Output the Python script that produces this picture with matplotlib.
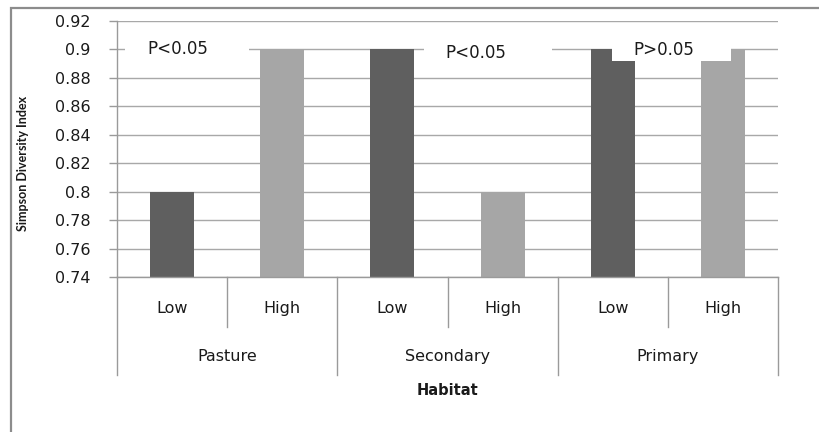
import matplotlib
matplotlib.use("Agg")
import matplotlib.pyplot as plt
from matplotlib.patches import Rectangle
import matplotlib.transforms as mtransforms

# Simpson diversity by habitat and disturbance level
habitats = ["Pasture", "Secondary", "Primary"]
levels = ["Low", "High"]
simpson_low = [0.80, 0.90, 0.90]
simpson_high = [0.90, 0.80, 0.90]
p_labels = ["P<0.05", "P<0.05", "P>0.05"]

y_ticks = [0.74, 0.76, 0.78, 0.80, 0.82, 0.84, 0.86, 0.88, 0.90, 0.92]

DARK = "#5f5f5f"
LIGHT = "#a6a6a6"
GRID = "#a8a8a8"
LINE = "#9a9a9a"
TEXT = "#1a1a1a"


def plotHabitatChart(out_file: str = "out.png") -> None:
    """
    Draws the grouped bar chart with two-level category labels
    (level under habitat) and saves it to out_file.
    """
    fig = plt.figure(figsize=(8.2, 4.32), dpi=100)
    ax = fig.add_axes([0.1427, 0.3588, 0.8061, 0.5926])

    # one slot per habitat/level pair, low first then high
    values = []
    colors = []
    slot_labels = []
    for i, habitat in enumerate(habitats):
        values += [simpson_low[i], simpson_high[i]]
        colors += [DARK, LIGHT]
        slot_labels += levels
    x = [k + 0.5 for k in range(len(values))]

    ax.bar(x, values, width=0.40, color=colors, zorder=2)

    ax.set_xlim(0, len(values))
    ax.set_ylim(y_ticks[0], y_ticks[-1])
    ax.set_yticks(y_ticks)
    ax.set_yticklabels([f"{v:g}" for v in y_ticks], fontsize=11.5, color=TEXT,
                       family="DejaVu Sans")
    ax.tick_params(axis="y", length=6, width=1, color=LINE, pad=13)
    ax.set_xticks([])
    ax.grid(axis="y", color=GRID, linewidth=1, zorder=0)
    ax.set_axisbelow(True)

    for side in ["top", "right"]:
        ax.spines[side].set_visible(False)
    for side in ["left", "bottom"]:
        ax.spines[side].set_color(LINE)
        ax.spines[side].set_linewidth(1)

    # two-level category axis below the plot
    trans = mtransforms.blended_transform_factory(ax.transData, ax.transAxes)
    for k in range(len(values) + 1):
        bottom = -0.383 if k % 2 == 0 else -0.195
        ax.plot([k, k], [0, bottom], color=LINE, linewidth=1,
                transform=trans, clip_on=False)
    for k, lab in enumerate(slot_labels):
        ax.text(k + 0.5, -0.125, lab, transform=trans, ha="center", va="center",
                fontsize=11.5, color=TEXT, family="DejaVu Sans")
    for i, habitat in enumerate(habitats):
        ax.text(2 * i + 1, -0.3125, habitat, transform=trans, ha="center",
                va="center", fontsize=11.5, color=TEXT, family="DejaVu Sans")

    ax.text(3.0, -0.445, "Habitat", transform=trans, ha="center", va="center",
            fontsize=10.5, fontweight="bold", color=TEXT, family="DejaVu Sans")
    ax.set_ylabel("Simpson Diversity Index", fontsize=9, fontweight="bold",
                  color=TEXT, family="Lato")
    ax.yaxis.set_label_coords(-0.133, 0.445)

    # significance labels sit on white boxes that hide grid and bar tops
    boxes = [(0.073, 1.198, 0.8915), (2.787, 3.948, 0.8895), (4.493, 5.573, 0.8919)]
    centers = [(0.549, 0.9005), (3.26, 0.8975), (4.96, 0.8995)]
    for (x0, x1, y0), (cx, cy), lab in zip(boxes, centers, p_labels):
        ax.add_patch(Rectangle((x0, y0), x1 - x0, 0.9085 - y0, facecolor="white",
                               edgecolor="none", zorder=3))
        ax.text(cx, cy, lab, ha="center", va="center", fontsize=12, color=TEXT,
                family="DejaVu Sans", zorder=4)

    # outer chart border, cut off on the right and bottom
    fig.patches.append(Rectangle((0.0134, -0.05), 1.1, 0.9815 + 0.05,
                                 transform=fig.transFigure, fill=False,
                                 edgecolor="#8c8c8c", linewidth=1.6))

    fig.savefig(out_file, dpi=100)


if __name__ == "__main__":
    plotHabitatChart()
